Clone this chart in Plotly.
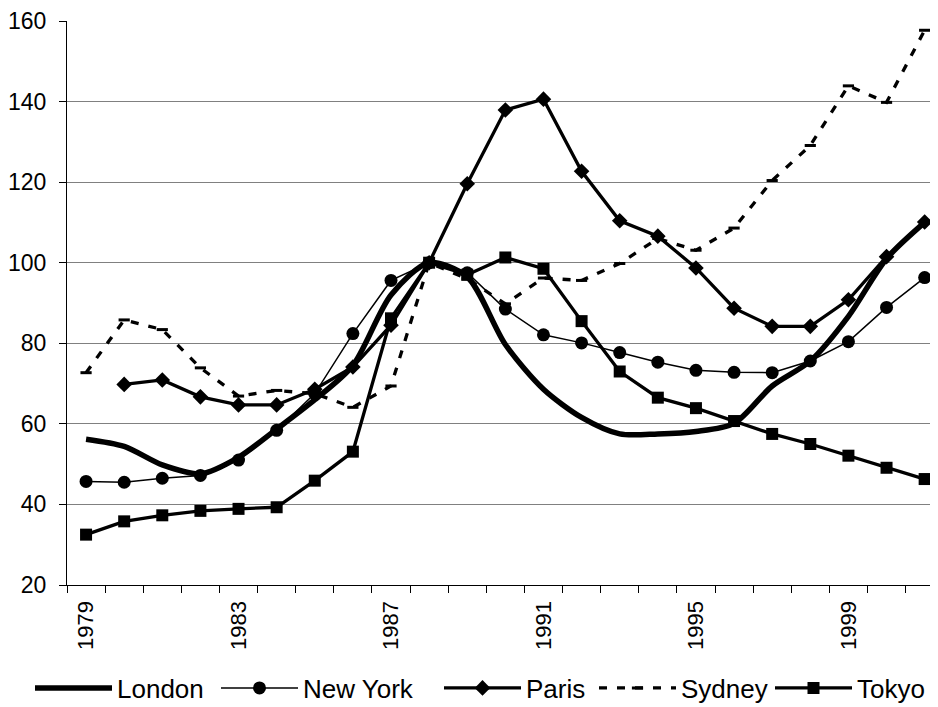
import plotly.graph_objects as go

years = [1979, 1980, 1981, 1982, 1983, 1984, 1985, 1986, 1987, 1988, 1989, 1990,
         1991, 1992, 1993, 1994, 1995, 1996, 1997, 1998, 1999, 2000, 2001]
tick_years = [1979, 1983, 1987, 1991, 1995, 1999]
tick_text = ["1979", "1983", "1987", "1991", "1995", "1999"]
y_ticks = [20, 40, 60, 80, 100, 120, 140, 160]

london = [56.2, 54.4, 49.8, 47.6, 51.7, 58.7, 66.0, 74.5, 92.0, 100.0, 96.5, 79.7,
          68.6, 61.6, 57.5, 57.5, 58.1, 60.1, 69.4, 75.6, 86.7, 101.0, 110.0]
new_york = [45.7, 45.5, 46.5, 47.2, 51.0, 58.4, 67.5, 82.4, 95.6, 100.0, 97.5, 88.5,
            82.1, 80.1, 77.7, 75.3, 73.3, 72.8, 72.7, 75.6, 80.4, 88.9, 96.3]
paris = [None, 69.8, 70.9, 66.7, 64.7, 64.7, 68.6, 74.1, 84.5, 100.0, 119.6, 137.9,
         140.6, 122.7, 110.4, 106.6, 98.7, 88.7, 84.2, 84.2, 90.8, 101.5, 110.1]
sydney = [72.7, 85.8, 83.4, 73.9, 66.9, 68.3, 67.5, 64.1, 69.4, 100.0, 96.0, 89.8,
          96.2, 95.6, 99.8, 106.0, 103.1, 108.6, 120.4, 129.1, 143.9, 139.8, 157.7]
tokyo = [32.5, 35.8, 37.3, 38.4, 38.9, 39.3, 45.9, 53.1, 86.2, 100.0, 97.0, 101.3,
         98.5, 85.5, 73.0, 66.5, 63.9, 60.7, 57.5, 55.0, 52.1, 49.1, 46.3]

FONT = "Liberation Sans"
W, H = 938, 707

fig = go.Figure()
fig.add_trace(go.Scatter(x=years, y=london, name="London", mode="lines", legend="legend",
                         line=dict(color="black", width=5.5, shape="spline", smoothing=0.8)))
fig.add_trace(go.Scatter(x=years, y=new_york, name="New York", mode="lines+markers",
                         legend="legend2",
                         line=dict(color="black", width=1.5),
                         marker=dict(symbol="circle", size=13, color="black")))
fig.add_trace(go.Scatter(x=years, y=paris, name="Paris", mode="lines+markers",
                         legend="legend3",
                         line=dict(color="black", width=3.3),
                         marker=dict(symbol="diamond", size=12, color="black")))
fig.add_trace(go.Scatter(x=years, y=sydney, name="Sydney", mode="lines+markers",
                         legend="legend4",
                         line=dict(color="black", width=3.3, dash="8px,10px"),
                         marker=dict(symbol="line-ew", size=8, color="black",
                                     line=dict(color="black", width=3))))
fig.add_trace(go.Scatter(x=years, y=tokyo, name="Tokyo", mode="lines+markers",
                         legend="legend5",
                         line=dict(color="black", width=3.3),
                         marker=dict(symbol="square", size=12, color="black")))


def leg(px_x):
    return dict(orientation="h", xref="container", yref="container",
                x=px_x / W, xanchor="left", y=1 - 680 / H, yanchor="middle",
                font=dict(family=FONT, size=26, color="black"),
                itemwidth=77,
                bgcolor="rgba(0,0,0,0)", borderwidth=0)


fig.update_layout(
    width=W, height=H,
    margin=dict(l=57, r=0, t=10, b=130),
    plot_bgcolor="white", paper_bgcolor="white",
    font=dict(family=FONT, color="black"),
    showlegend=True,
    legend=leg(22), legend2=leg(208), legend3=leg(431),
    legend4=leg(586), legend5=leg(762),
)
fig.update_xaxes(
    range=[1978.5, 2001.56],
    tickmode="array", tickvals=tick_years, ticktext=tick_text,
    tickangle=-90, tickfont=dict(family=FONT, size=22),
    ticks="outside", ticklen=6, tickcolor="rgba(0,0,0,0)",
    showline=True, linecolor="black", linewidth=1.3,
    showgrid=False, zeroline=False,
    minor=dict(tick0=1978.5, dtick=1, ticks="outside", ticklen=7,
               tickcolor="black", tickwidth=1.3, showgrid=False),
)
fig.update_yaxes(
    range=[20, 160], tickmode="array", tickvals=y_ticks,
    tickfont=dict(family=FONT, size=23),
    ticks="outside", ticklen=7, tickcolor="black", tickwidth=1.3,
    ticklabelstandoff=8, ticklabeloverflow="allow",
    showline=True, linecolor="black", linewidth=1.3,
    showgrid=True, gridcolor="#808080", gridwidth=1.2, zeroline=False,
)

fig.write_html("out.html")
